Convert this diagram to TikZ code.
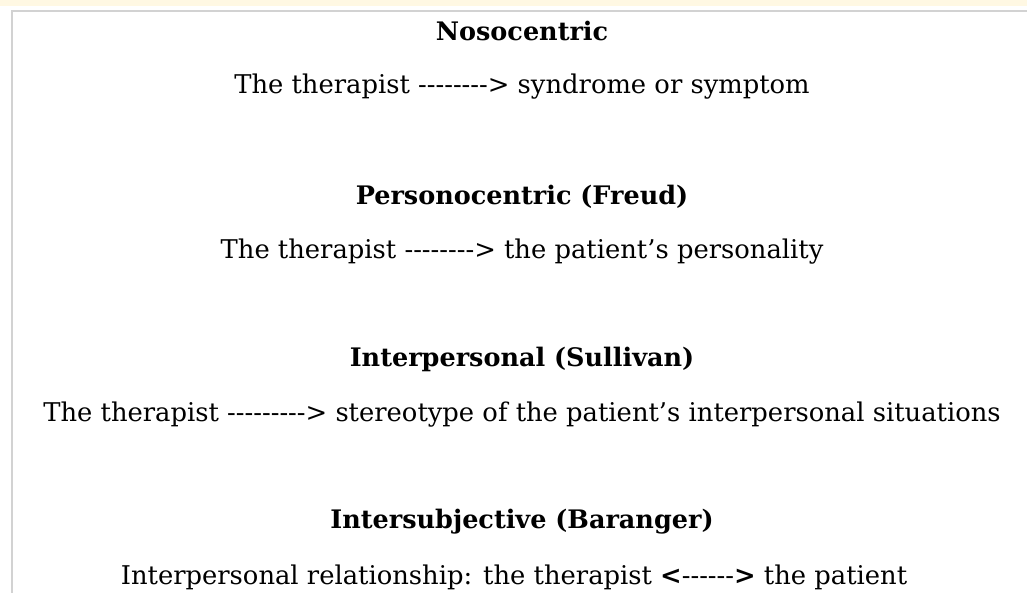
\documentclass[tikz,border=0pt]{standalone}
\usepackage{fontspec}
\setmainfont{DejaVu Serif}[Ligatures=TeXOff]
\definecolor{band}{HTML}{FFF8E3}
\definecolor{frame}{HTML}{D2D2D2}
\tikzset{
  head/.style={anchor=center, inner sep=0pt, font=\fontsize{25.5}{30}\selectfont\bfseries},
  body/.style={anchor=center, inner sep=0pt, font=\fontsize{25.8}{30}\selectfont}
}
\begin{document}
\begin{tikzpicture}[x=1pt,y=1pt]
\useasboundingbox (0,0) rectangle (1027,593);
\fill[white] (0,0) rectangle (1027,593);
\fill[band] (0,587) rectangle (1027,593);
\draw[frame, line width=2pt] (12,0) -- (12,582) -- (1027,582);
\node[head] (h1) at (522,562) {Nosocentric};
\node[body] (t1) at (522,506) {The therapist --------> syndrome or symptom};
\node[head] (h2) at (522,396) {Personocentric (Freud)};
\node[body] (t2) at (522,341) {The therapist --------> the patient’s personality};
\node[head] (h3) at (522,234) {Interpersonal (Sullivan)};
\node[body] (t3) at (522,178) {The therapist ---------> stereotype of the patient’s interpersonal situations};
\node[head] (h4) at (522,71) {Intersubjective (Baranger)};
\node[body] (t4) at (514,16) {Interpersonal relationship: the therapist \textbf{<}------\textbf{>} the patient};
\end{tikzpicture}
\end{document}
